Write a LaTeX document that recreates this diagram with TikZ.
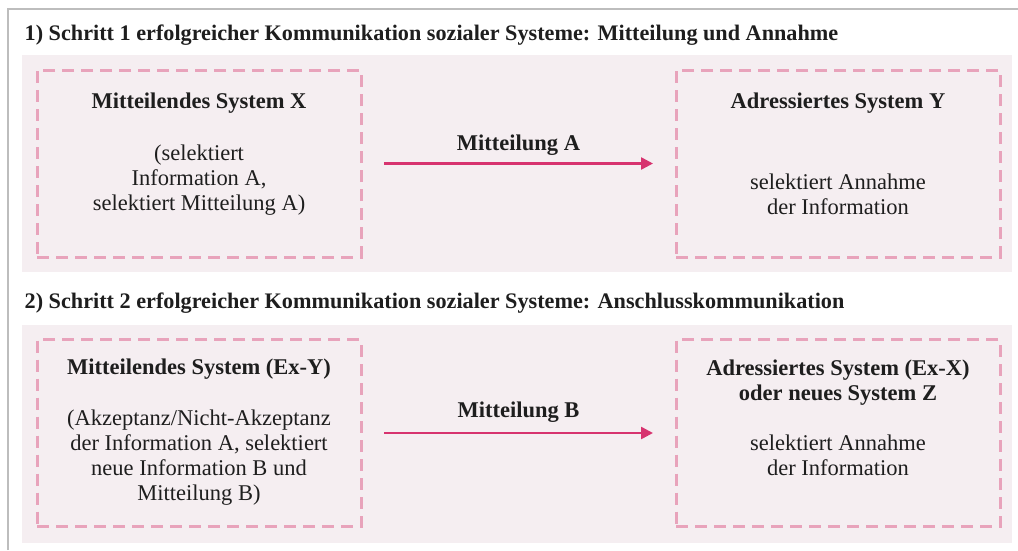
\documentclass[tikz,border=0pt]{standalone}
\usepackage{fontspec}
\setmainfont{Liberation Serif}
\usetikzlibrary{positioning,arrows.meta}
\definecolor{framegray}{HTML}{BDBDBD}
\definecolor{panelbg}{HTML}{F5EEF1}
\definecolor{dashpink}{HTML}{E8A3BB}
\definecolor{msgred}{HTML}{D7336F}
\definecolor{textdark}{HTML}{1E1E1E}

\begin{document}
\begin{tikzpicture}[x=1pt,y=-1pt,>={Triangle[length=12pt,width=12pt]},
  sys box/.style={draw=dashpink,line width=3pt,dash pattern=on 12pt off 7pt,minimum width=324pt,minimum height=187pt,inner sep=0pt},
  sys title/.style={font=\fontsize{22.5}{25}\selectfont\bfseries,text=textdark,align=center,inner sep=0pt},
  sys text/.style={font=\fontsize{22.5}{25}\selectfont,text=textdark,align=center,inner sep=0pt},
  phase title/.style={font=\fontsize{22.2}{25}\selectfont\bfseries,text=textdark,anchor=base west,inner sep=0pt},
  msg/.style={->,draw=msgred,line width=2.5pt,shorten <=21.5pt,shorten >=21.5pt},
  msg label/.style={font=\fontsize{22.5}{25}\selectfont\bfseries,text=textdark,inner sep=0pt}]

  \useasboundingbox (0,0) rectangle (1018,550);
  \draw[framegray,line width=2pt] (8,550) -- (8,9) -- (1018,9);

  % step 1
  \fill[panelbg] (22,55) rectangle (1012,272);
  \node[phase title] (p1) at (24.5,40) {1) Schritt 1 erfolgreicher Kommunikation sozialer Systeme: Mitteilung und Annahme};

  \node[sys box] (X) at (199,163.5) {};
  \node[sys box] (Y) [right=312pt of X] {};

  \node[sys title] (tX) [below=24.5pt of X.north] {Mitteilendes System X};
  \node[sys text] (bX) [below=76pt of X.north] {(selektiert\\Information A,\\selektiert Mitteilung A)};
  \node[sys title] (tY) [below=24.5pt of Y.north] {Adressiertes System Y};
  \node[sys text] (bY) [below=105.5pt of Y.north] {selektiert Annahme\\der Information};

  \draw[msg] (X) -- node[msg label,midway,above=7pt] {Mitteilung A} (Y);

  % step 2
  \fill[panelbg] (22,325) rectangle (1012,543);
  \node[phase title] (p2) at (24.5,308) {2) Schritt 2 erfolgreicher Kommunikation sozialer Systeme: Anschlusskommunikation};

  \node[sys box] (X2) at (199,433) {};
  \node[sys box] (Y2) [right=312pt of X2] {};

  \node[sys title] (tX2) [below=20.5pt of X2.north] {Mitteilendes System (Ex-Y)};
  \node[sys text] (bX2) [below=71.5pt of X2.north] {(Akzeptanz/Nicht-Akzeptanz\\der Information A, selektiert\\neue Information B und\\Mitteilung B)};
  \node[sys title] (tY2) [below=22pt of Y2.north] {Adressiertes System (Ex-X)\\oder neues System Z};
  \node[sys text] (bY2) [below=97pt of Y2.north] {selektiert Annahme\\der Information};

  \draw[msg] (X2) -- node[msg label,midway,above=9pt] {Mitteilung B} (Y2);
\end{tikzpicture}
\end{document}
